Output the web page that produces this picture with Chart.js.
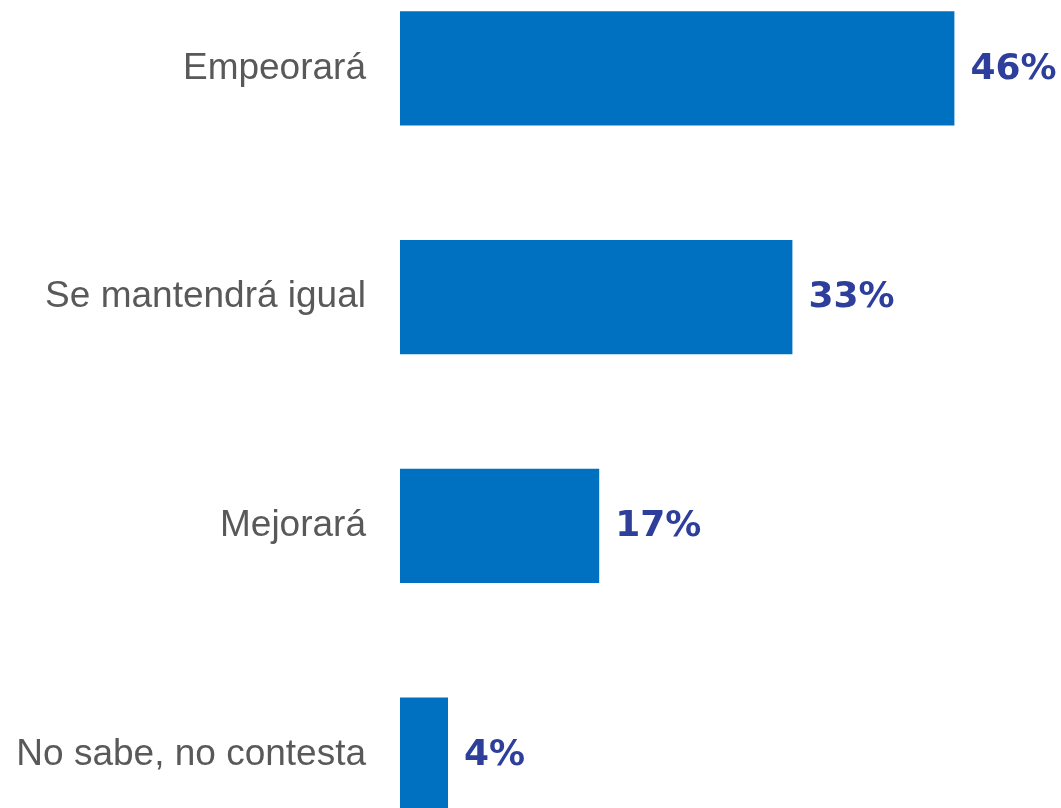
<!DOCTYPE html>
<html>
<head>
<meta charset="utf-8">
<script src="https://cdn.jsdelivr.net/npm/chart.js@4"></script>
<style>
  html, body { margin: 0; padding: 0; background: #fff; overflow: hidden; }
  #myChart { position: absolute; left: 0; top: -46px; }
</style>
</head>
<body>
<canvas id="myChart" width="1061" height="915"></canvas>
<script>
// data
const categories = ['Empeorará', 'Se mantendrá igual', 'Mejorará', 'No sabe, no contesta'];
const values = [46.2, 32.7, 16.6, 4.0];
const valueLabels = ['46%', '33%', '17%', '4%'];

// value labels at the bar ends
const barLabels = {
  id: 'barLabels',
  afterDatasetsDraw(chart) {
    const ctx = chart.ctx;
    const meta = chart.getDatasetMeta(0);
    ctx.save();
    ctx.font = 'bold 36px "DejaVu Sans"';
    ctx.fillStyle = '#2E3F9B';
    ctx.textAlign = 'left';
    ctx.textBaseline = 'middle';
    meta.data.forEach((bar, i) => {
      ctx.fillText(valueLabels[i], bar.x + 16, bar.y + 1);
    });
    ctx.restore();
  }
};

const data = {
  labels: categories,
  datasets: [{
    data: values,
    backgroundColor: '#0070C0',
    borderWidth: 0,
    barPercentage: 0.5,
    categoryPercentage: 1.0
  }]
};

const config = {
  type: 'bar',
  data,
  options: {
    indexAxis: 'y',
    responsive: false,
    animation: false,
    layout: { padding: { left: 0, right: 1, top: 0, bottom: 0 } },
    plugins: {
      legend: { display: false },
      tooltip: { enabled: false }
    },
    scales: {
      x: {
        display: false,
        min: 0,
        max: 55
      },
      y: {
        grid: { display: false, drawTicks: false },
        border: { display: false },
        ticks: {
          color: '#595959',
          font: { family: '"Liberation Sans", Arial, sans-serif', size: 37 },
          padding: 34
        },
        afterFit(scale) {
          scale.width = 400;
          // no extra room above/below the category band
          scale.paddingTop = 0;
          scale.paddingBottom = 0;
        }
      }
    }
  },
  plugins: [barLabels]
};

const myChart = new Chart(document.getElementById('myChart'), config);
</script>
</body>
</html>
